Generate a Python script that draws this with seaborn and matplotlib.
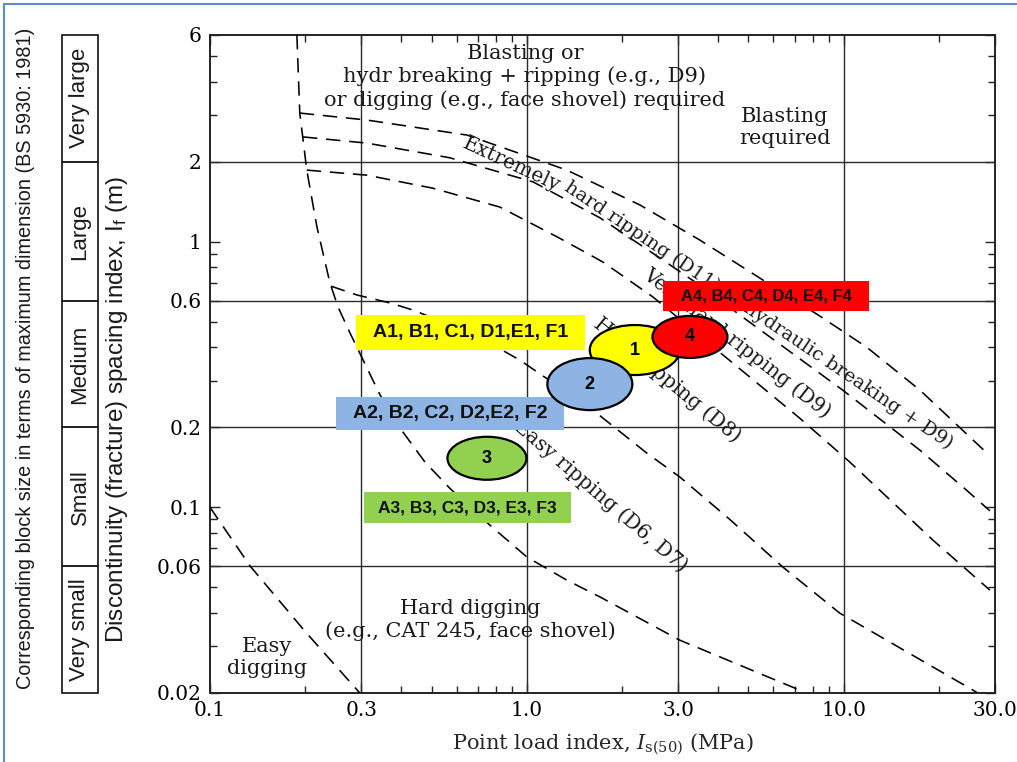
import numpy as np
import pandas as pd
import matplotlib
matplotlib.use("Agg")
import matplotlib.pyplot as plt
import seaborn as sns
import matplotlib.transforms as mtransforms
from matplotlib.patches import Ellipse, Rectangle
from matplotlib.lines import Line2D

# ---------------- data ----------------
# boundary curves of the excavatability chart (Is50 in MPa, If in m)
easy_digging_x = [0.1, 0.134, 0.2, 0.297]
easy_digging_y = [0.1, 0.06, 0.034, 0.02]

easy_ripping_x = [0.188, 0.192, 0.202, 0.2175, 0.239, 0.2535, 0.2766, 0.304, 0.344,
                  0.3975, 0.4768, 0.571, 0.764, 1.0, 1.336, 1.70, 3.04, 7.26]
easy_ripping_y = [6.0, 3.05, 1.86, 1.136, 0.70, 0.568, 0.453, 0.359, 0.265,
                  0.199, 0.148, 0.118, 0.0857, 0.065, 0.0532, 0.046, 0.0316, 0.0205]

hard_ripping_x = [0.241, 0.291, 0.370, 0.437, 0.628, 0.804, 0.951, 1.614, 2.39,
                  3.04, 4.37, 6.42, 9.7, 26.3]
hard_ripping_y = [0.68, 0.63, 0.588, 0.553, 0.465, 0.401, 0.358, 0.2325, 0.16,
                  0.130, 0.090, 0.0596, 0.040, 0.0201]

very_hard_ripping_x = [0.202, 0.313, 0.505, 0.822, 1.27, 1.736, 2.50, 3.98, 7.26,
                       10.45, 19.1, 28.9]
very_hard_ripping_y = [1.86, 1.78, 1.59, 1.35, 1.03, 0.839, 0.619, 0.391, 0.2166,
                       0.148, 0.0753, 0.0488]

extremely_hard_x = [0.1965, 0.313, 0.571, 1.045, 1.70, 2.63, 3.51, 4.94, 9.93,
                    17.4, 24.4, 28.9]
extremely_hard_y = [2.48, 2.35, 2.07, 1.68, 1.23, 0.868, 0.686, 0.507, 0.276,
                    0.164, 0.116, 0.097]

blasting_x = [0.192, 0.313, 0.647, 1.337, 2.273, 3.51, 5.43, 8.4, 11.8, 17.4, 28.3]
blasting_y = [3.05, 2.87, 2.52, 1.86, 1.375, 1.015, 0.73, 0.525, 0.401, 0.276, 0.16]

# rock groups (ellipse centres)
group_ids = ["1", "2", "3", "4"]
group_x = [2.19, 1.58, 0.748, 3.27]
group_y = [0.391, 0.291, 0.153, 0.438]
group_labels = ["A1, B1, C1, D1,E1, F1", "A2, B2, C2, D2,E2, F2",
                "A3, B3, C3, D3, E3, F3", "A4, B4, C4, D4, E4, F4"]
label_x = [0.6635, 0.571, 0.649, 5.68]
label_y = [0.455, 0.2255, 0.0998, 0.622]

# axes ticks
x_ticks = [0.1, 0.3, 1.0, 3.0, 10.0, 30.0]
x_tick_labels = ["0.1", "0.3", "1.0", "3.0", "10.0", "30.0"]
y_ticks = [0.02, 0.06, 0.1, 0.2, 0.6, 1, 2, 6]
y_tick_labels = ["0.02", "0.06", "0.1", "0.2", "0.6", "1", "2", "6"]
x_grid = [0.3, 1.0, 3.0, 10.0]
y_grid = [0.06, 0.2, 0.6, 2.0]

# block size classes (BS 5930: 1981)
block_classes = ["Very small", "Small", "Medium", "Large", "Very large"]
block_bounds = [0.02, 0.06, 0.2, 0.6, 2.0, 6.0]

# ---------------- style ----------------
sns.set_theme(style="white")
plt.rcParams["font.family"] = ["DejaVu Serif"]
plt.rcParams["mathtext.fontset"] = "dejavuserif"

W, H = 1017, 762
fig = plt.figure(figsize=(W / 100, H / 100), dpi=100)
ax = fig.add_axes([210 / W, 69 / H, 785 / W, 658 / H])
ax.set_xscale("log")
ax.set_yscale("log")

curves = {
    "easy_digging": (easy_digging_x, easy_digging_y),
    "easy_ripping": (easy_ripping_x, easy_ripping_y),
    "hard_ripping": (hard_ripping_x, hard_ripping_y),
    "very_hard": (very_hard_ripping_x, very_hard_ripping_y),
    "extremely_hard": (extremely_hard_x, extremely_hard_y),
    "blasting": (blasting_x, blasting_y),
}
df = pd.concat(
    [pd.DataFrame({"curve": k, "x": v[0], "y": v[1]}) for k, v in curves.items()],
    ignore_index=True,
)
sns.lineplot(data=df, x="x", y="y", units="curve", estimator=None, sort=False,
             color="black", lw=1.15, ax=ax, legend=False, zorder=3)
for ln in ax.get_lines():
    ln.set_dashes((9, 5.5))
    ln.set_dash_capstyle("butt")
    ln.set_solid_joinstyle("round")

ax.set_xlim(0.1, 30)
ax.set_ylim(0.02, 6)

for gx in x_grid:
    ax.axvline(gx, color="#2b2b2b", lw=1.0, zorder=1)
for gy in y_grid:
    ax.axhline(gy, color="#2b2b2b", lw=1.0, zorder=1)

ax.set_xticks(x_ticks)
ax.set_xticklabels(x_tick_labels)
ax.set_yticks(y_ticks)
ax.set_yticklabels(y_tick_labels)
ax.xaxis.set_minor_locator(matplotlib.ticker.LogLocator(base=10, subs=np.arange(2, 10)))
ax.yaxis.set_minor_locator(matplotlib.ticker.LogLocator(base=10, subs=np.arange(2, 10)))
ax.xaxis.set_minor_formatter(matplotlib.ticker.NullFormatter())
ax.yaxis.set_minor_formatter(matplotlib.ticker.NullFormatter())
ax.tick_params(which="both", direction="in", top=True, right=True, bottom=True,
               left=True, colors="#222222", width=1.0)
ax.tick_params(which="major", length=7, labelsize=14.5, pad=6)
ax.tick_params(which="minor", length=5)
for t in ax.get_xticklabels() + ax.get_yticklabels():
    t.set_color("black")
for s in ax.spines.values():
    s.set_color("#222222")
    s.set_linewidth(1.4)

ax.set_xlabel(r"Point load index, $I_{\mathrm{s(50)}}$ (MPa)", fontsize=15, labelpad=8)
ax.set_ylabel("")


def at_data(xd, yd):
    return fig.dpi_scale_trans + mtransforms.ScaledTranslation(xd, yd, ax.transData)


# region texts
txt = dict(fontsize=15, color="#1a1a1a", ha="center", va="center", zorder=4)
ax.text(0.986, 4.17, "Blasting or\nhydr breaking + ripping (e.g., D9)\nor digging (e.g., face shovel) required",
        linespacing=1.25, **txt)
ax.text(6.52, 2.68, "Blasting\nrequired", linespacing=1.2, **txt)
ax.text(0.661, 0.0376, "Hard digging\n(e.g., CAT 245, face shovel)", linespacing=1.25, **txt)
ax.text(0.1513, 0.0273, "Easy\ndigging", linespacing=1.2, **txt)

rot = dict(color="#1a1a1a", ha="center", va="center", rotation_mode="anchor", zorder=4)
ax.text(0.897, 1.944, "Extremely", rotation=-25, fontsize=14.5, **rot)
ax.text(5.40, 0.527, "hard ripping (D11) or hydraulic breaking + D9)", rotation=-34,
        fontsize=13.8, **rot)
ax.text(4.60, 0.4155, "Very hard ripping (D9)", rotation=-37.7, fontsize=14.5, **rot)
ax.text(2.765, 0.3015, "Hard ripping (D8)", rotation=-39.5, fontsize=14.5, **rot)
ax.text(1.712, 0.1103, "Easy ripping (D6, D7)", rotation=-40.7, fontsize=14.5, **rot)

# group ellipses
ell_colors = ["#FFFF00", "#8DB4E2", "#92D050", "#FF0000"]
ell_size = [(90, 50), (85, 52), (79, 43), (75, 42)]
ell_z = [6, 7, 6, 7]
for gid, gx, gy, c, (w, h), z in zip(group_ids, group_x, group_y, ell_colors, ell_size, ell_z):
    ax.add_patch(Ellipse((0, 0), w / 100, h / 100, transform=at_data(gx, gy),
                         fc=c, ec="black", lw=1.6, zorder=z))
    ax.text(gx, gy, gid, ha="center", va="center", fontsize=13, fontweight="bold",
            family=["Liberation Sans", "DejaVu Sans"], color="black", zorder=z + 0.1)

# group labels
box_size = [(229, 35), (228, 33), (207, 31), (206, 30)]
lab_fs = [14, 14, 12.5, 12]
for lab, lx, ly, c, (w, h), fs in zip(group_labels, label_x, label_y, ell_colors, box_size, lab_fs):
    ax.add_patch(Rectangle((-w / 200, -h / 200), w / 100, h / 100, transform=at_data(lx, ly),
                           fc=c, ec="none", zorder=5))
    ax.text(lx, ly, lab, ha="center", va="center", fontsize=fs, fontweight="bold",
            family=["Liberation Sans", "DejaVu Sans"], color="#111111", zorder=5.5)

# left block size table
blend = mtransforms.blended_transform_factory(fig.transFigure, ax.transData)
x0, x1 = 62 / W, 98 / W
sans = ["Liberation Sans", "DejaVu Sans"]
for name, lo, hi in zip(block_classes, block_bounds[:-1], block_bounds[1:]):
    ax.add_patch(Rectangle((x0, lo), x1 - x0, hi - lo, transform=blend, fill=False,
                           ec="#222222", lw=1.3, clip_on=False))
    ax.text((x0 + x1) / 2, np.sqrt(lo * hi), name, transform=blend, rotation=90,
            ha="center", va="center", fontsize=16, family=sans, color="#1a1a1a",
            clip_on=False)

fig.text(26 / W, 1 - 358 / H,
         "Corresponding block size in terms of maximum dimension (BS 5930: 1981)",
         rotation=90, ha="center", va="center", fontsize=14.3, family=sans, color="#1a1a1a")
fig.text(117 / W, 1 - 410 / H,
         r"Discontinuity (fracture) spacing index, $\mathregular{I_f}$ (m)",
         rotation=90, ha="center", va="center", fontsize=17.5, family=sans, color="#1a1a1a")

# thin blue frame
fig.add_artist(Line2D([4 / W, 4 / W], [0, 1 - 4 / H], transform=fig.transFigure,
                      color="#5B8FD0", lw=1.5))
fig.add_artist(Line2D([4 / W, 1], [1 - 4 / H, 1 - 4 / H], transform=fig.transFigure,
                      color="#5B8FD0", lw=1.5))

fig.savefig("out.png", dpi=100)
